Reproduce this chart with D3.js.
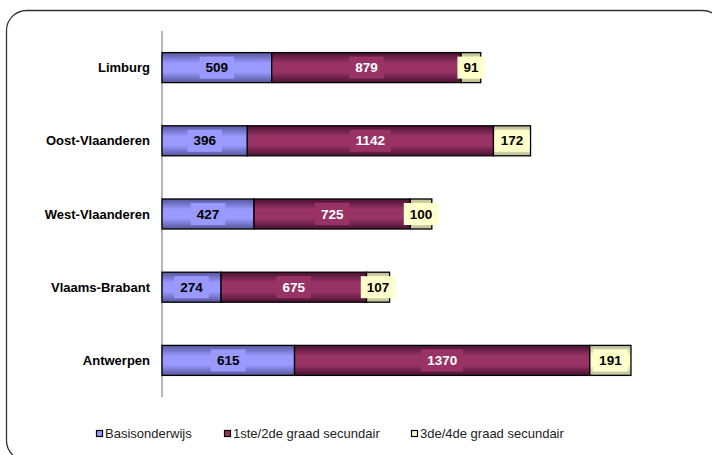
<!DOCTYPE html>
<html><head><meta charset="utf-8">
<script src="https://cdn.jsdelivr.net/npm/d3@7"></script>
<style>html,body{margin:0;padding:0;background:#fff;}svg{display:block;}</style>
</head><body>
<script>
const categories = ["Limburg", "Oost-Vlaanderen", "West-Vlaanderen", "Vlaams-Brabant", "Antwerpen"];
const seriesNames = ["Basisonderwijs", "1ste/2de graad secundair", "3de/4de graad secundair"];
const basis = [509, 396, 427, 274, 615];
const graad12 = [879, 1142, 725, 675, 1370];
const graad34 = [91, 172, 100, 107, 191];

const W = 712, H = 455;
const FONT = "'Liberation Sans', Arial, sans-serif";
const svg = d3.select("body").append("svg").attr("width", W).attr("height", H);
const defs = svg.append("defs");

const colors = [
  {mid: "#9999ff", edge: "#55559a", label: "#9999ff", text: "#000"},
  {mid: "#993366", edge: "#4a1231", label: "#993366", text: "#fff"},
  {mid: "#ffffcc", edge: "#b8b894", label: "#ffffcc", text: "#000"}
];
colors.forEach((c, i) => {
  const g = defs.append("linearGradient").attr("id", "g" + i).attr("x1", 0).attr("y1", 0).attr("x2", 0).attr("y2", 1);
  g.append("stop").attr("offset", "0%").attr("stop-color", c.edge);
  g.append("stop").attr("offset", "35%").attr("stop-color", c.mid);
  g.append("stop").attr("offset", "65%").attr("stop-color", c.mid);
  g.append("stop").attr("offset", "100%").attr("stop-color", c.edge);
});

// frame
svg.append("rect").attr("x", 6.5).attr("y", 10.5).attr("width", 716).attr("height", 450)
  .attr("rx", 20).attr("ry", 20).attr("fill", "none").attr("stroke", "#333").attr("stroke-width", 1.3);

const x = d3.scaleLinear().domain([0, 2500]).range([162, 700.8]);
const y = d3.scaleBand().domain(categories).range([31, 397]).paddingInner(0.59).paddingOuter(0.295);

const data = categories.map((c, i) => ({cat: c, vals: [basis[i], graad12[i], graad34[i]]}));

// axis
svg.append("line").attr("x1", 162).attr("x2", 162).attr("y1", 31).attr("y2", 397)
  .attr("stroke", "#888").attr("stroke-width", 1.2);

// category labels
svg.selectAll("text.cat").data(categories).enter().append("text")
  .attr("x", 150).attr("y", d => y(d) + y.bandwidth() / 2)
  .attr("text-anchor", "end").attr("dominant-baseline", "central")
  .attr("font-family", FONT).attr("font-weight", "bold")
  .attr("font-size", 13).attr("fill", "#000").text(d => d);

const segs = [];
data.forEach(d => {
  let acc = 0;
  d.vals.forEach((v, k) => { segs.push({cat: d.cat, k, v, x0: acc, x1: acc + v}); acc += v; });
});

svg.selectAll("rect.seg").data(segs).enter().append("rect")
  .attr("x", d => x(d.x0)).attr("y", d => y(d.cat))
  .attr("width", d => x(d.x1) - x(d.x0)).attr("height", y.bandwidth())
  .attr("fill", d => "url(#g" + d.k + ")").attr("stroke", "#000").attr("stroke-width", 1.3);

// value labels
const lg = svg.selectAll("g.lab").data(segs).enter().append("g")
  .attr("transform", d => `translate(${(x(d.x0) + x(d.x1)) / 2},${y(d.cat) + y.bandwidth() / 2})`);
lg.each(function(d) {
  const g = d3.select(this);
  const t = g.append("text").attr("text-anchor", "middle").attr("dominant-baseline", "central")
    .attr("font-family", FONT).attr("font-weight", "bold")
    .attr("font-size", 13.5).attr("fill", colors[d.k].text).text(d.v);
  const w = t.node().getComputedTextLength();
  g.insert("rect", "text").attr("x", -w / 2 - 6).attr("y", -11).attr("width", w + 12).attr("height", 22)
    .attr("fill", colors[d.k].label);
});

// legend
const legX = [96, 224, 411];
const leg = svg.selectAll("g.leg").data(seriesNames).enter().append("g")
  .attr("transform", (d, i) => `translate(${legX[i]},433)`);
leg.append("rect").attr("x", 0.5).attr("y", -2.5).attr("width", 6).attr("height", 6)
  .attr("fill", (d, i) => colors[i].mid).attr("stroke", "#000").attr("stroke-width", 1.2);
leg.append("text").attr("x", 9).attr("y", 0.5).attr("dominant-baseline", "central")
  .attr("font-family", FONT).attr("font-size", 13)
  .attr("fill", "#222").text(d => d);
</script>
</body></html>
